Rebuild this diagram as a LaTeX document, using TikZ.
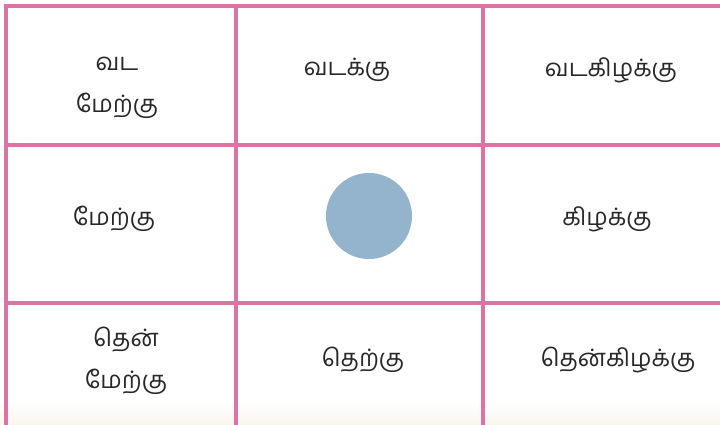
\documentclass[tikz,border=0pt]{standalone}
\usepackage{fontspec}
\newfontfamily\tamil[Script=Tamil]{Hind Madurai}
\definecolor{gridpink}{RGB}{220,115,165}
\definecolor{dotblue}{RGB}{148,179,204}
\definecolor{txt}{RGB}{40,40,40}
\definecolor{beige}{RGB}{250,246,238}
\begin{document}
\begin{tikzpicture}[x=1pt,y=-1pt,
  lbl/.style={font=\tamil\fontsize{24}{42}\selectfont, text=txt, align=center, inner sep=0pt},
  gridline/.style={draw=gridpink, line width=4pt}]
\useasboundingbox (0,0) rectangle (720,425);
\fill[white] (0,0) rectangle (720,425);
\shade[top color=white, bottom color=beige] (0,400) rectangle (720,425);
% grid
\draw[gridline] (6,4) -- (6,425);
\draw[gridline] (236,4) -- (236,425);
\draw[gridline] (483,4) -- (483,425);
\draw[gridline] (4,6) -- (720,6);
\draw[gridline] (4,145) -- (720,145);
\draw[gridline] (4,303) -- (720,303);
% labels
\node[lbl] (nw) at (117,88) {வட\\மேற்கு};
\node[lbl] (n) at (347,70) {வடக்கு};
\node[lbl] (ne) at (611,70) {வடகிழக்கு};
\node[lbl] (w) at (114,219) {மேற்கு};
\node[lbl] (e) at (607,219) {கிழக்கு};
\node[lbl] (sw) at (126,361) {தென்\\மேற்கு};
\node[lbl] (s) at (363,360) {தெற்கு};
\node[lbl] (se) at (618,360) {தென்கிழக்கு};
\node[circle, fill=dotblue, minimum size=86pt, inner sep=0pt] (dot) at (369,216) {};
\end{tikzpicture}
\end{document}
